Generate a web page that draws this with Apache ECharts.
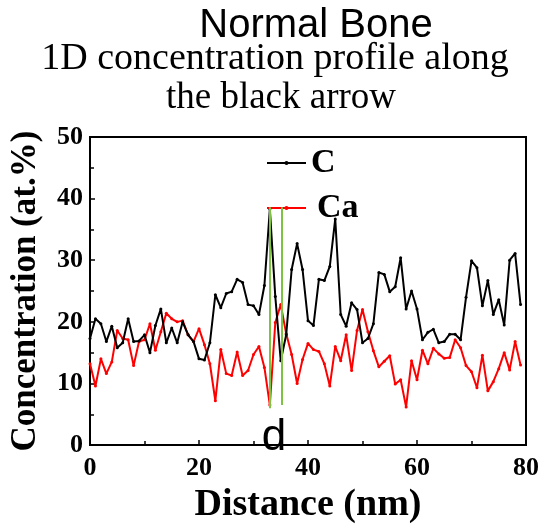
<!DOCTYPE html>
<html>
<head>
<meta charset="utf-8">
<script src="https://cdn.jsdelivr.net/npm/echarts@6/dist/echarts.min.js"></script>
<style>
html, body { margin: 0; padding: 0; background: #fff; }
#main { width: 544px; height: 529px; }
</style>
</head>
<body>
<div id="main"></div>
<script>
// distance (nm) of each sample
var distance = [];
for (var i = 0; i < 80; i++) distance.push(i);

// concentration (at.%)
var carbon = [17.3, 20.5, 19.7, 16.8, 19.3, 15.8, 16.6, 20.5, 16.8, 16.9,
	17.9, 15.0, 19.4, 22.1, 16.6, 19.0, 16.6, 20.0, 17.9, 16.8,
	14.0, 13.8, 16.6, 24.4, 22.3, 24.6, 24.9, 26.9, 26.4, 22.8,
	22.6, 21.2, 25.9, 38.3, 24.1, 13.7, 17.9, 28.5, 32.7, 28.5,
	20.2, 19.4, 26.9, 26.7, 29.0, 36.7, 21.2, 19.3, 23.1, 22.0,
	16.6, 17.3, 19.7, 28.0, 27.7, 24.9, 25.7, 30.4, 22.1, 25.0,
	22.1, 17.1, 18.3, 18.8, 16.6, 16.8, 18.0, 18.0, 17.1, 24.0,
	29.9, 28.8, 22.6, 26.7, 21.2, 23.6, 19.5, 30.0, 31.1, 22.8];

var calcium = [13.2, 9.6, 14.0, 11.6, 13.5, 18.6, 17.3, 17.1, 12.9, 16.8,
	17.1, 19.7, 15.4, 18.4, 21.4, 20.5, 20.0, 20.2, 17.9, 16.8,
	18.9, 16.3, 13.2, 7.2, 15.5, 11.6, 11.3, 15.1, 11.3, 12.1,
	14.7, 16.0, 12.6, 6.5, 19.9, 22.8, 18.1, 14.7, 10.0, 13.9,
	16.5, 15.5, 15.2, 13.2, 9.6, 16.0, 13.7, 17.9, 12.1, 18.6,
	22.0, 18.4, 15.3, 12.7, 13.6, 14.5, 9.9, 10.6, 6.2, 13.7,
	10.6, 15.4, 13.2, 15.7, 14.8, 14.1, 14.2, 17.1, 15.8, 12.9,
	11.9, 9.3, 14.6, 8.8, 10.3, 12.4, 15.0, 12.2, 16.8, 13.0];

// green marker lines (x positions, y span)
var markX = [33, 35.1];
var markYTop = [38.6, 38.6];
var markYBottom = [6, 6.5];

var xTicks = [0, 20, 40, 60, 80];
var yTicks = [0, 10, 20, 30, 40, 50];

function pairs(ys) {
	return distance.map(function (x, k) { return [x, ys[k]]; });
}

var serif = '"Liberation Serif", "Times New Roman", serif';

var myChart = echarts.init(document.getElementById('main'));
var option = {
	animation: false,
	backgroundColor: '#fff',
	graphic: [{
		type: 'text',
		style: { text: 'Normal Bone', x: 316, y: 26, textAlign: 'center', textVerticalAlign: 'middle',
			font: '40px "Liberation Sans", Arial, sans-serif', fill: '#000' }
	}, {
		type: 'text',
		style: { text: '1D concentration profile along', x: 275, y: 59, textAlign: 'center', textVerticalAlign: 'middle',
			font: '38px ' + serif, fill: '#000' }
	}, {
		type: 'text',
		style: { text: 'the black arrow', x: 281, y: 98, textAlign: 'center', textVerticalAlign: 'middle',
			font: '37px ' + serif, fill: '#000' }
	}, {
		type: 'text',
		style: { text: 'd', x: 274, y: 438, textAlign: 'center', textVerticalAlign: 'middle',
			font: '44px "Liberation Sans", Arial, sans-serif', fill: '#000' }
	}],
	legend: {
		orient: 'vertical',
		left: 261,
		top: 141,
		itemWidth: 39,
		itemHeight: 5,
		itemGap: 11,
		textStyle: {
			fontFamily: serif,
			fontWeight: 'bold',
			fontSize: 34,
			color: '#000',
			lineHeight: 34
		},
		data: [{ name: 'C' }, { name: 'Ca', textStyle: { padding: [0, 0, 0, 6] } }]
	},
	grid: {
		left: 89,
		right: 18,
		top: 137,
		bottom: 71,
		show: true,
		borderColor: '#000',
		borderWidth: 2
	},
	xAxis: {
		type: 'value',
		min: 0,
		max: 80,
		interval: 20,
		name: 'Distance (nm)',
		nameLocation: 'middle',
		nameGap: 40,
		nameTextStyle: { fontFamily: serif, fontWeight: 'bold', fontSize: 38, color: '#000' },
		axisLine: { lineStyle: { color: '#000', width: 2 } },
		axisTick: { inside: true, length: 5, lineStyle: { color: '#000', width: 1.5 } },
		minorTick: { show: true, splitNumber: 2, length: 4, lineStyle: { color: '#000', width: 1.5 } },
		axisLabel: {
			fontFamily: serif, fontWeight: 'bold', fontSize: 26, color: '#000', margin: 10,
			formatter: function (v) { return xTicks.indexOf(v) >= 0 ? String(v) : ''; }
		},
		splitLine: { show: false }
	},
	yAxis: {
		type: 'value',
		min: 0,
		max: 50,
		interval: 10,
		name: 'Concentration (at.%)',
		nameLocation: 'middle',
		nameGap: 47,
		nameTextStyle: { fontFamily: serif, fontWeight: 'bold', fontSize: 35, color: '#000' },
		axisLine: { lineStyle: { color: '#000', width: 2 } },
		axisTick: { inside: true, length: 5, lineStyle: { color: '#000', width: 1.5 } },
		minorTick: { show: true, splitNumber: 2, length: 4, lineStyle: { color: '#000', width: 1.5 } },
		axisLabel: {
			fontFamily: serif, fontWeight: 'bold', fontSize: 26, color: '#000', margin: 7,
			formatter: function (v) { return yTicks.indexOf(v) >= 0 ? String(v) : ''; }
		},
		splitLine: { show: false }
	},
	series: [{
		name: 'C',
		type: 'line',
		data: pairs(carbon),
		symbol: 'circle',
		symbolSize: 3,
		itemStyle: { color: '#000' },
		lineStyle: { color: '#000', width: 2 },
		z: 3
	}, {
		name: 'Ca',
		type: 'line',
		data: pairs(calcium),
		symbol: 'circle',
		symbolSize: 3,
		itemStyle: { color: '#ff0000' },
		lineStyle: { color: '#ff0000', width: 2 },
		z: 2,
		markLine: {
			silent: true,
			symbol: 'none',
			label: { show: false },
			lineStyle: { color: '#7dc242', width: 2, type: 'solid' },
			data: markX.map(function (x, k) {
				return [{ coord: [x, markYTop[k]] }, { coord: [x, markYBottom[k]] }];
			})
		}
	}]
};
myChart.setOption(option);
</script>
</body>
</html>
